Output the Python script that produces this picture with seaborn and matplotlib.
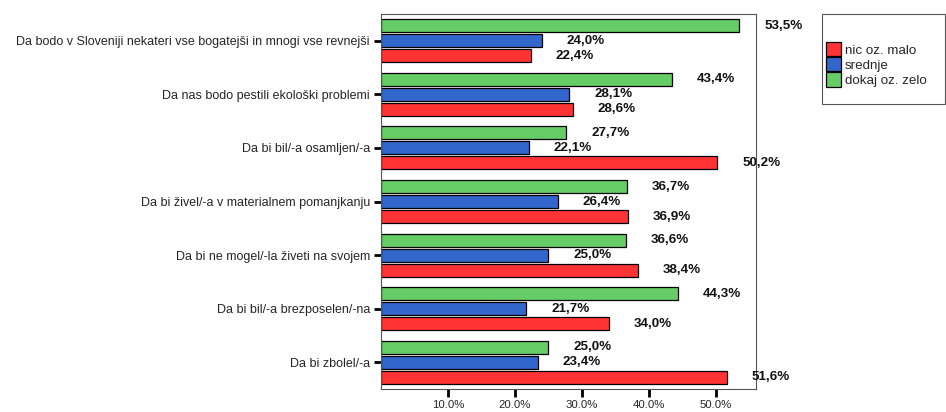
import matplotlib
matplotlib.use("Agg")
import matplotlib.pyplot as plt
import matplotlib.patches as mpatches
import seaborn as sns
import pandas as pd

categories = [
    "Da bodo v Sloveniji nekateri vse bogatejši in mnogi vse revnejši",
    "Da nas bodo pestili ekološki problemi",
    "Da bi bil/-a osamljen/-a",
    "Da bi živel/-a v materialnem pomanjkanju",
    "Da bi ne mogel/-la živeti na svojem",
    "Da bi bil/-a brezposelen/-na",
    "Da bi zbolel/-a",
]
nic_oz_malo = [22.4, 28.6, 50.2, 36.9, 38.4, 34.0, 51.6]
srednje = [24.0, 28.1, 22.1, 26.4, 25.0, 21.7, 23.4]
dokaj_oz_zelo = [53.5, 43.4, 27.7, 36.7, 36.6, 44.3, 25.0]

series_names = ["nic oz. malo", "srednje", "dokaj oz. zelo"]
x_ticks = [10, 20, 30, 40, 50]
x_tick_labels = ["10.0%", "20.0%", "30.0%", "40.0%", "50.0%"]

colors = {"nic oz. malo": "#ff3333", "srednje": "#3366cc", "dokaj oz. zelo": "#66cc66"}

rows = []
for name, vals in zip(series_names, [nic_oz_malo, srednje, dokaj_oz_zelo]):
    for cat, v in zip(categories, vals):
        rows.append({"kategorija": cat, "odgovor": name, "delez": v})
df = pd.DataFrame(rows)

sns.set_style("white")
plt.rcParams["font.family"] = ["Liberation Sans", "DejaVu Sans"]

fig = plt.figure(figsize=(9.46, 4.12), dpi=100)
ax = fig.add_axes([381 / 946, 1 - 389 / 412, 375 / 946, 375 / 412])

draw_order = ["dokaj oz. zelo", "srednje", "nic oz. malo"]
sns.barplot(
    data=df, y="kategorija", x="delez", hue="odgovor",
    order=categories, hue_order=draw_order, palette=colors, saturation=1,
    orient="h", width=0.84, gap=0.13, edgecolor="black", linewidth=0.9,
    legend=False, ax=ax,
)

for container in ax.containers:
    vals = container.datavalues
    labels = ax.bar_label(
        container,
        labels=[f"{v:.1f}%".replace(".", ",") for v in vals],
        padding=18, fontsize=9.6, fontweight="bold", color="#111111",
        clip_on=False,
    )

ax.set_xlim(0, 56)
ax.set_xticks(x_ticks)
ax.set_xticklabels(x_tick_labels, fontsize=8.2)
ax.tick_params(axis="x", bottom=True, direction="out", length=6, width=2,
               color="black", pad=2)
ax.tick_params(axis="y", left=True, direction="out", length=5, width=2,
               color="black", labelsize=9, pad=3)
ax.set_xlabel("")
ax.set_ylabel("")
for s in ax.spines.values():
    s.set_color("#555555")
    s.set_linewidth(0.8)

# legend box
box = mpatches.Rectangle((822 / 946, 1 - 104 / 412), 123 / 946, 90 / 412,
                         transform=fig.transFigure, facecolor="white",
                         edgecolor="#555555", linewidth=0.8)
fig.patches.append(box)
handles = [mpatches.Patch(facecolor=colors[n], edgecolor="black", linewidth=0.9, label=n)
           for n in series_names]
fig.legend(handles=handles, loc="upper left", bbox_to_anchor=(826 / 946, 1 - 42 / 412),
           frameon=False, fontsize=9.6, handlelength=1.1, handleheight=1.25,
           handletextpad=0.3, labelspacing=0.05, borderpad=0, borderaxespad=0)

fig.savefig("out.png", dpi=100)
